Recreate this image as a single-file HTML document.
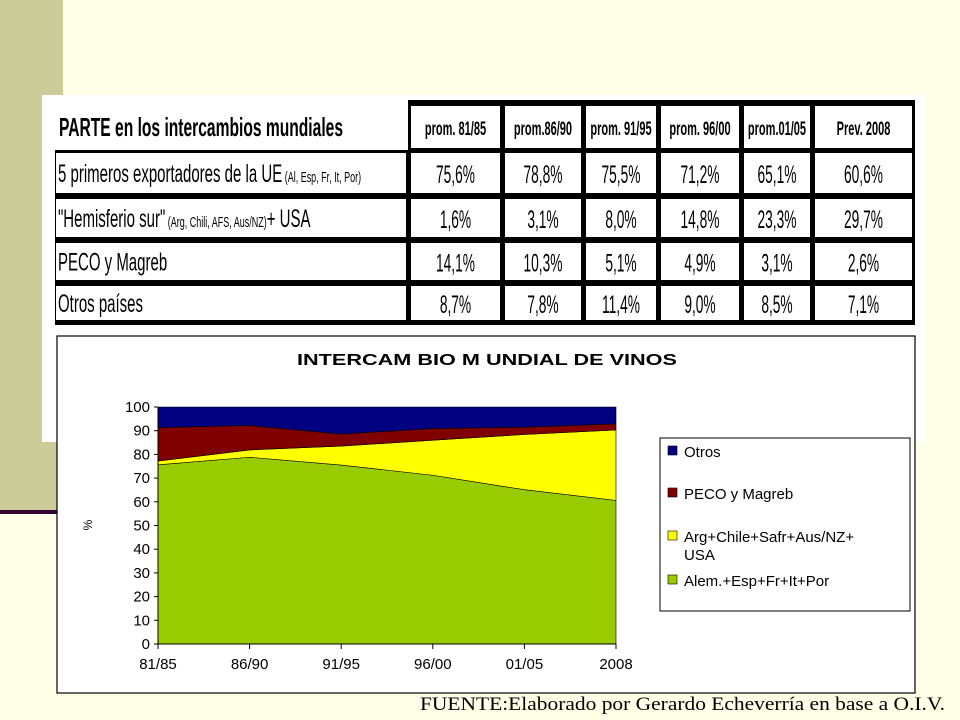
<!DOCTYPE html>
<html><head><meta charset="utf-8"><style>
html,body{margin:0;padding:0;background:#fffee6;}
svg{display:block;font-family:"Liberation Sans",sans-serif;}
</style></head><body>
<svg width="960" height="720" viewBox="0 0 960 720">
<rect x="0" y="0" width="960" height="720" fill="#fffee6"/>
<rect x="0" y="0" width="63" height="510" fill="#cccc99"/>
<rect x="0" y="510" width="62" height="4" fill="#330033"/>
<rect x="42" y="95" width="883" height="347" fill="#ffffff"/>
<g id="table"></g>
<rect x="57" y="336" width="858" height="357" fill="#ffffff" stroke="#000" stroke-width="1.2"/>
<text x="297" y="365" textLength="380" lengthAdjust="spacingAndGlyphs" font-size="16" font-weight="bold">INTERCAM BIO M UNDIAL DE VINOS</text>
<text x="92" y="525" font-size="12" transform="rotate(-90 92 525)" text-anchor="middle">%</text>
<g id="plot"></g>
<rect x="660" y="438" width="250" height="173" fill="#fff" stroke="#000" stroke-width="1"/>
<g id="legend"></g>
<text x="420" y="710" textLength="525" lengthAdjust="spacingAndGlyphs" font-size="19" font-family="Liberation Serif,serif">FUENTE:Elaborado por  Gerardo Echeverría en base a O.I.V.</text>
</svg>
<script>
const categories=["81/85","86/90","91/95","96/00","01/05","2008"];
const euVals=[75.6,78.8,75.5,71.2,65.1,60.6];
const southVals=[1.6,3.1,8.0,14.8,23.3,29.7];
const pecoVals=[14.1,10.3,5.1,4.9,3.1,2.6];
const otrosVals=[8.7,7.8,11.4,9.0,8.5,7.1];
const yTicks=[0,10,20,30,40,50,60,70,80,90,100];
const headerLabels=["prom. 81/85","prom.86/90","prom. 91/95","prom. 96/00","prom.01/05","Prev. 2008"];
const rowLabels=["5 primeros exportadores de la UE","\"Hemisferio sur\"","PECO y Magreb","Otros países"];
const NS="http://www.w3.org/2000/svg";
function mk(t,a,p){const e=document.createElementNS(NS,t);for(const k in a)e.setAttribute(k,a[k]);p.appendChild(e);return e;}
function sx(cx,s){return `translate(${cx} 0) scale(${s} 1) translate(${-cx} 0)`;}
const tb=document.getElementById('table');
const colX=[[56,406],[411,500],[505,581],[586,656],[661,739],[744,810],[815,912]];
const rowY=[[106,148],[153,193],[199,237],[243,280],[286,320]];
let bg=mk('rect',{x:408,y:100,width:507,height:225,fill:'#000'},tb);

let bg2=mk('rect',{x:55,y:150,width:355,height:175,fill:'#000'},tb);

const tableVals=[euVals,southVals,pecoVals,otrosVals];
rowY.forEach((ry,r)=>{colX.forEach((cx,c)=>{
 const cell=mk('rect',{x:cx[0],y:ry[0],width:cx[1]-cx[0],height:ry[1]-ry[0],fill:'#fff'},tb);
 
 const cyy=(ry[0]+ry[1])/2+8;
 const mid=(cx[0]+cx[1])/2;
 let txt;
 if(r===0&&c===0){txt=mk('text',{x:cx[0]+3,y:cyy+1,'font-size':26,'font-weight':'bold',transform:sx(cx[0]+3,0.6)},tb);txt.textContent="PARTE en los intercambios mundiales";}
 else if(r===0){txt=mk('text',{x:mid,y:cyy,'font-size':19,'font-weight':'bold','text-anchor':'middle',transform:sx(mid,0.58)},tb);txt.textContent=headerLabels[c-1];}
 else if(c===0){txt=mk('text',{x:cx[0]+2,y:cyy+1,'font-size':25,transform:sx(cx[0]+2,0.6)},tb);txt.textContent=rowLabels[r-1];
   if(r===1){const ts=mk('tspan',{'font-size':15},txt);ts.textContent=" (Al, Esp, Fr, It, Por)";}
   if(r===2){const ts=mk('tspan',{'font-size':15},txt);ts.textContent=" (Arg, Chili, AFS, Aus/NZ)";const t2=mk('tspan',{'font-size':25},txt);t2.textContent="+ USA";}}
 else{txt=mk('text',{x:mid,y:cyy+2,'font-size':25,'text-anchor':'middle',transform:sx(mid,0.55)},tb);txt.textContent=tableVals[r-1][c-1].toFixed(1).replace('.',',')+'%';}
 
});});
const pl=document.getElementById('plot');
const X0=158,X1=616,Y0=644,Y1=407;
const xs=i=>X0+(X1-X0)*i/(categories.length-1);
const ys=v=>Y0-(Y0-Y1)*v/100;
const series=[euVals,southVals,pecoVals,otrosVals];
const colors=["#99cc00","#ffff00","#800000","#000080"];
const names=["series-eu","series-south","series-peco","series-otros"];
let base=categories.map(()=>0);
series.forEach((s,k)=>{
 const top=base.map((b,i)=>k===3?100:b+s[i]);
 let d="M"+categories.map((_,i)=>xs(i)+","+ys(top[i])).join(" L");
 for(let i=categories.length-1;i>=0;i--)d+=" L"+xs(i)+","+ys(base[i]);
 const p=mk('path',{d:d+"Z",fill:colors[k],stroke:'#000','stroke-width':0.6},pl);
 
 base=top;
});
const ax=mk('path',{d:`M${X0},${Y1} V${Y0} H${X1}`,stroke:'#000',fill:'none','stroke-width':1},pl);

yTicks.forEach(t=>{
 const l=mk('line',{x1:X0-4,x2:X0,y1:ys(t),y2:ys(t),stroke:'#000'},pl);
 
 const tx=mk('text',{x:X0-8,y:ys(t)+5,'font-size':15,'text-anchor':'end'},pl);tx.textContent=t;
 
});
categories.forEach((c,i)=>{
 const l=mk('line',{x1:xs(i),x2:xs(i),y1:Y0,y2:Y0+5,stroke:'#000'},pl);
 
 const tx=mk('text',{x:xs(i),y:Y0+25,'font-size':15,'text-anchor':'middle'},pl);tx.textContent=c;
 
});
const lg=document.getElementById('legend');
const legNames=[["Otros"],["PECO y Magreb"],["Arg+Chile+Safr+Aus/NZ+","USA"],["Alem.+Esp+Fr+It+Por"]];
const legY=[452,494,537,581];
const legC=[colors[3],colors[2],colors[1],colors[0]];
legNames.forEach((n,i)=>{
 const r=mk('rect',{x:668,y:legY[i]-6,width:9,height:9,fill:legC[i],stroke:'#000','stroke-width':0.6},lg);
 
 n.forEach((s,j)=>{const t=mk('text',{x:684,y:legY[i]+5+j*18,'font-size':15},lg);t.textContent=s;
 });
});
</script>
</body></html>
